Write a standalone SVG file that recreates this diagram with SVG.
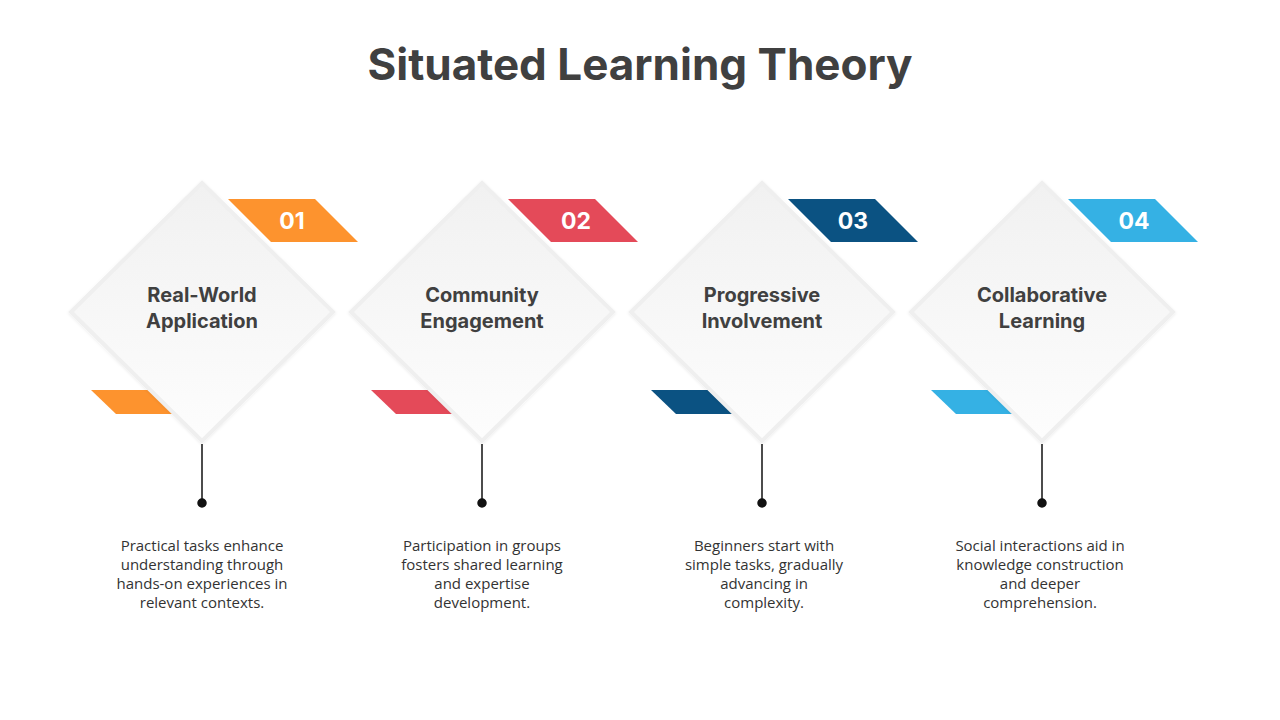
<svg xmlns="http://www.w3.org/2000/svg" width="1280" height="720" viewBox="0 0 1280 720">
<defs>
<linearGradient id="g" x1="0" y1="0" x2="0" y2="1"><stop offset="0" stop-color="#f1f1f1"/><stop offset="1" stop-color="#fdfdfd"/></linearGradient>
<filter id="s" x="-20%" y="-20%" width="140%" height="140%"><feDropShadow dx="0" dy="1" stdDeviation="1.5" flood-color="#000" flood-opacity="0.08"/></filter>
</defs>
<style>
.t{font-family:Inter,"Open Sans","Liberation Sans",sans-serif;font-weight:700;fill:#404040;text-anchor:middle}
.n{font-family:Inter,"Open Sans","Liberation Sans",sans-serif;font-weight:700;fill:#fff;text-anchor:middle;font-size:23px}
.d{font-family:"Open Sans","Liberation Sans",sans-serif;fill:#333;text-anchor:middle;font-size:15px}
.dia{fill:url(#g);stroke:#efefef;stroke-width:4;filter:url(#s)}
</style>
<rect width="1280" height="720" fill="#fff"/>
<text class="t" x="640" y="80" font-size="44">Situated Learning Theory</text>
<g id="connectors" stroke="#111" stroke-width="1.5" fill="#111">
<line x1="202" y1="444" x2="202" y2="503"/><circle cx="202" cy="503" r="4"/>
<line x1="482" y1="444" x2="482" y2="503"/><circle cx="482" cy="503" r="4"/>
<line x1="762" y1="444" x2="762" y2="503"/><circle cx="762" cy="503" r="4"/>
<line x1="1042" y1="444" x2="1042" y2="503"/><circle cx="1042" cy="503" r="4"/>
</g>
<g id="node1">
<polygon points="228,199 315,199 358,242 271,242" fill="#fd932e"/>
<polygon points="91,390 148,390 173,414 116,414" fill="#fd932e"/>
<polygon class="dia" points="202,183 333,312 202,441 71,312"/>
<text class="n" x="292" y="229">01</text>
<text class="t" x="202" y="302" font-size="20">Real-World</text>
<text class="t" x="202" y="328" font-size="20">Application</text>
<text class="d"><tspan x="202" y="551">Practical  tasks enhance</tspan><tspan x="202" y="570">understanding through</tspan><tspan x="202" y="589">hands-on experiences in</tspan><tspan x="202" y="608">relevant contexts.</tspan></text>
</g>
<g id="node2">
<polygon points="508,199 595,199 638,242 551,242" fill="#e44a59"/>
<polygon points="371,390 428,390 453,414 396,414" fill="#e44a59"/>
<polygon class="dia" points="482,183 613,312 482,441 351,312"/>
<text class="n" x="576" y="229">02</text>
<text class="t" x="482" y="302" font-size="20">Community</text>
<text class="t" x="482" y="328" font-size="20">Engagement</text>
<text class="d"><tspan x="482" y="551">Participation  in groups</tspan><tspan x="482" y="570">fosters shared learning</tspan><tspan x="482" y="589">and expertise</tspan><tspan x="482" y="608">development.</tspan></text>
</g>
<g id="node3">
<polygon points="788,199 875,199 918,242 831,242" fill="#0b5282"/>
<polygon points="651,390 708,390 733,414 676,414" fill="#0b5282"/>
<polygon class="dia" points="762,183 893,312 762,441 631,312"/>
<text class="n" x="853" y="229">03</text>
<text class="t" x="762" y="302" font-size="20">Progressive</text>
<text class="t" x="762" y="328" font-size="20">Involvement</text>
<text class="d"><tspan x="764" y="551">Beginners start with</tspan><tspan x="764" y="570">simple tasks, gradually</tspan><tspan x="764" y="589">advancing in</tspan><tspan x="764" y="608">complexity.</tspan></text>
</g>
<g id="node4">
<polygon points="1068,199 1155,199 1198,242 1111,242" fill="#35b1e4"/>
<polygon points="931,390 988,390 1013,414 956,414" fill="#35b1e4"/>
<polygon class="dia" points="1042,183 1173,312 1042,441 911,312"/>
<text class="n" x="1134" y="229">04</text>
<text class="t" x="1042" y="302" font-size="20">Collaborative</text>
<text class="t" x="1042" y="328" font-size="20">Learning</text>
<text class="d"><tspan x="1040" y="551">Social interactions aid in</tspan><tspan x="1040" y="570">knowledge construction</tspan><tspan x="1040" y="589">and deeper</tspan><tspan x="1040" y="608">comprehension.</tspan></text>
</g>
</svg>
